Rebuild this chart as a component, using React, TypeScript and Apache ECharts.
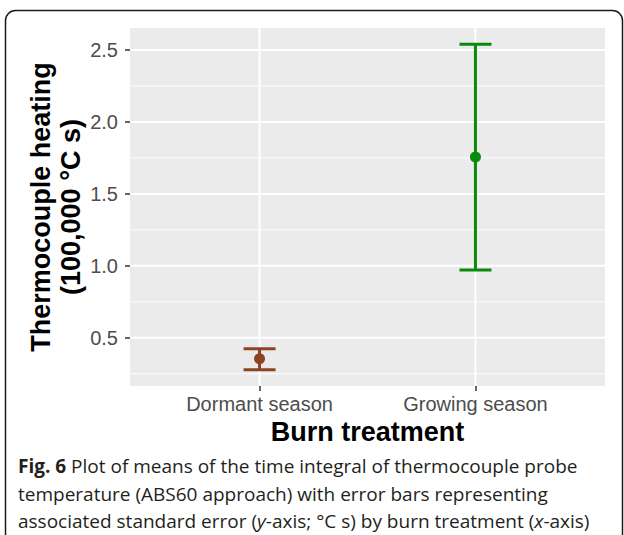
import React, { useEffect, useRef } from "react";
import * as echarts from "echarts";

const categories = ["Dormant season", "Growing season"];
const means = [0.354, 1.757];
const lowers = [0.278, 0.972];
const uppers = [0.424, 2.54];
const colors = ["#8E4322", "#0A8A0A"];
const yTicks = [0.5, 1.0, 1.5, 2.0, 2.5];
const yMinor = [0.25, 0.75, 1.25, 1.75, 2.25];
const xTicks = [1, 2];

const AXIS_FONT = "'Liberation Sans', Arial, sans-serif";
const CAP_FONT = "'Open Sans', 'Noto Sans', sans-serif";

export default function App() {
  const ref = useRef<HTMLDivElement>(null);
  useEffect(() => {
    if (!ref.current) return;
    const chart = echarts.init(ref.current, undefined, { renderer: "svg" });

    const hLine = (values: number[], width: number) => ({
      type: "custom",
      z: 1,
      silent: true,
      data: values.map((v) => [v]),
      renderItem: (params: any, api: any) => {
        const v = api.value(0);
        const a = api.coord([0.4, v]);
        const b = api.coord([2.6, v]);
        return {
          type: "line",
          shape: { x1: a[0], y1: a[1], x2: b[0], y2: b[1] },
          style: { stroke: "#FFFFFF", lineWidth: width },
        };
      },
    });

    const vLine = {
      type: "custom",
      z: 1,
      silent: true,
      data: xTicks.map((v) => [v]),
      renderItem: (params: any, api: any) => {
        const v = api.value(0);
        const a = api.coord([v, 0.165]);
        const b = api.coord([v, 2.653]);
        return {
          type: "line",
          shape: { x1: a[0], y1: a[1], x2: b[0], y2: b[1] },
          style: { stroke: "#FFFFFF", lineWidth: 2 },
        };
      },
    };

    const errData = categories.map((c, i) => [i + 1, means[i], lowers[i], uppers[i]]);

    const option: any = {
      animation: false,
      grid: {
        left: 130,
        top: 28,
        width: 475,
        height: 358,
        show: true,
        backgroundColor: "#EBEBEB",
        borderWidth: 0,
      },
      xAxis: {
        type: "value",
        min: 0.4,
        max: 2.6,
        axisLine: { show: false },
        splitLine: { show: false },
        axisTick: {
          show: true,
          customValues: xTicks,
          length: 5,
          lineStyle: { color: "#333333", width: 1.5 },
        },
        axisLabel: {
          customValues: xTicks,
          formatter: (v: number) => categories[Math.round(v) - 1] ?? "",
          color: "#4D4D4D",
          fontSize: 20,
          fontFamily: AXIS_FONT,
          margin: 8,
        },
        name: "Burn treatment",
        nameLocation: "middle",
        nameGap: 31,
        nameTextStyle: {
          fontSize: 27,
          fontWeight: "bold",
          color: "#000000",
          fontFamily: AXIS_FONT,
        },
      },
      yAxis: {
        type: "value",
        min: 0.165,
        max: 2.653,
        axisLine: { show: false },
        splitLine: { show: false },
        axisTick: {
          show: true,
          customValues: yTicks,
          length: 5,
          lineStyle: { color: "#333333", width: 1.5 },
        },
        axisLabel: {
          customValues: yTicks,
          formatter: (v: number) => v.toFixed(1),
          color: "#4D4D4D",
          fontSize: 20,
          fontFamily: AXIS_FONT,
          margin: 12,
        },
        name: "Thermocouple heating\n(100,000 °C s)",
        nameLocation: "middle",
        nameMoveOverlap: false,
        nameGap: 44,
        nameTextStyle: {
          fontSize: 27,
          fontWeight: "bold",
          color: "#000000",
          fontFamily: AXIS_FONT,
          lineHeight: 30,
        },
      },
      graphic: [
        {
          type: "rect",
          z: -10,
          shape: { x: 5.5, y: 10.5, width: 617, height: 600, r: 10 },
          style: { fill: "none", stroke: "#1A1A1A", lineWidth: 1.5 },
        },
        {
          type: "text",
          left: 18,
          top: 456,
          style: {
            text: "{b|Fig. 6} Plot of means of the time integral of thermocouple probe",
            font: `19px ${CAP_FONT}`,
            fill: "#231F20",
            rich: {
              b: { fontWeight: "bold", fontSize: 19, fontFamily: CAP_FONT, fill: "#231F20" },
            },
          },
        },
        {
          type: "text",
          left: 18,
          top: 484,
          style: {
            text: "temperature (ABS60 approach) with error bars representing",
            font: `19px ${CAP_FONT}`,
            fill: "#231F20",
          },
        },
        {
          type: "text",
          left: 18,
          top: 511,
          style: {
            text: "associated standard error ({i|y}-axis; °C s) by burn treatment ({i|x}-axis)",
            font: `19px ${CAP_FONT}`,
            fill: "#231F20",
            rich: {
              i: { fontStyle: "italic", fontSize: 19, fontFamily: CAP_FONT, fill: "#231F20" },
            },
          },
        },
      ],
      series: [
        hLine(yMinor, 1),
        hLine(yTicks, 2),
        vLine,
        {
          type: "custom",
          z: 5,
          data: errData,
          renderItem: (params: any, api: any) => {
            const x = api.value(0);
            const m = api.coord([x, api.value(1)]);
            const lo = api.coord([x, api.value(2)]);
            const hi = api.coord([x, api.value(3)]);
            const color = colors[params.dataIndex];
            const hw = 16;
            const st = { stroke: color, lineWidth: 3 };
            return {
              type: "group",
              children: [
                { type: "line", shape: { x1: lo[0], y1: lo[1], x2: hi[0], y2: hi[1] }, style: st },
                { type: "line", shape: { x1: hi[0] - hw, y1: hi[1], x2: hi[0] + hw, y2: hi[1] }, style: st },
                { type: "line", shape: { x1: lo[0] - hw, y1: lo[1], x2: lo[0] + hw, y2: lo[1] }, style: st },
                { type: "circle", shape: { cx: m[0], cy: m[1], r: 5.5 }, style: { fill: color } },
              ],
            };
          },
        },
      ],
    };
    chart.setOption(option);
    return () => chart.dispose();
  }, []);
  return (
    <div
      ref={ref}
      style={{ position: "absolute", left: 0, top: 0, width: 624, height: 535, background: "#FFFFFF" }}
    />
  );
}
